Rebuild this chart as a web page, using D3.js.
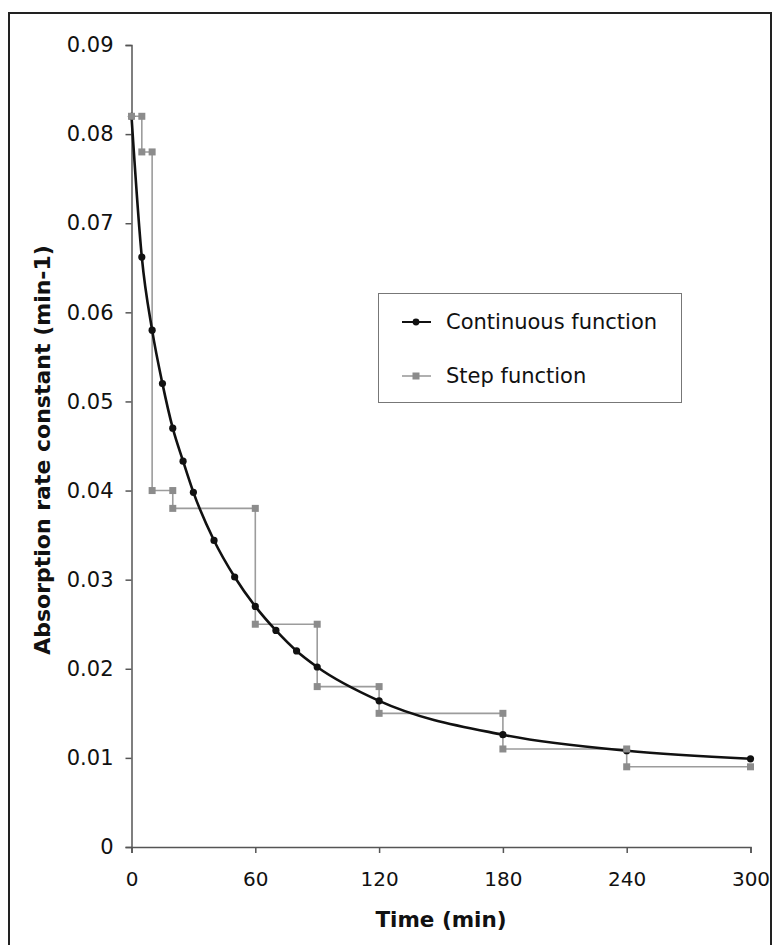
<html>
<head>
  <style>
    body {
      margin: 0;
      background: #ffffff;
      font-family: "DejaVu Sans", Verdana, sans-serif;
    }

    .axis text {
      font-family: "DejaVu Sans", Verdana, sans-serif;
      font-size: 20px;
      fill: #111;
    }

    .yaxis text {
      font-size: 21px;
    }

    .axis path,
    .axis line {
      stroke: #555;
      stroke-width: 1.5px;
    }
  </style>
</head>

<body>
  <div id="chart"></div>

  <script src="https://d3js.org/d3.v7.min.js"></script>
  <script>
    // continuous function
    var contTime = [0, 5, 10, 15, 20, 25, 30, 40, 50, 60, 70, 80, 90, 120, 180, 240, 300];
    var contRate = [0.082, 0.0662, 0.058, 0.052, 0.0470, 0.0433, 0.0398, 0.0344, 0.0303, 0.0270,
                    0.0243, 0.0220, 0.0202, 0.0164, 0.0126, 0.0108, 0.0099];

    // step function corners
    var stepTime = [0, 5, 5, 10, 10, 20, 20, 60, 60, 90, 90, 120, 120, 180, 180, 240, 240, 300];
    var stepRate = [0.082, 0.082, 0.078, 0.078, 0.040, 0.040, 0.038, 0.038, 0.025, 0.025,
                    0.018, 0.018, 0.015, 0.015, 0.011, 0.011, 0.009, 0.009];

    var xTicks = [0, 60, 120, 180, 240, 300];
    var yTicks = [0, 0.01, 0.02, 0.03, 0.04, 0.05, 0.06, 0.07, 0.08, 0.09];

    var seriesNames = ["Continuous function", "Step function"];

    var width = 773,
        height = 945;

    var svg = d3.select("#chart")
      .append("svg")
      .attr("width", width)
      .attr("height", height);

    // outer frame (bottom edge runs off the page)
    svg.append("rect")
      .attr("x", 9)
      .attr("y", 13)
      .attr("width", 762)
      .attr("height", 960)
      .attr("fill", "none")
      .attr("stroke", "#222")
      .attr("stroke-width", 2);

    var x = d3.scaleLinear().domain([0, 300]).range([131.5, 750.5]);
    var y = d3.scaleLinear().domain([0, 0.09]).range([847, 45]);

    var cont = contTime.map(function (t, i) { return { t: t, v: contRate[i] }; });
    var step = stepTime.map(function (t, i) { return { t: t, v: stepRate[i] }; });

    // axes
    svg.append("g")
      .attr("class", "axis yaxis")
      .attr("transform", "translate(" + x(0) + ",0)")
      .call(d3.axisLeft(y)
        .tickValues(yTicks)
        .tickSize(6)
        .tickPadding(12)
        .tickFormat(function (d) { return d === 0 ? "0" : d3.format(".2f")(d); }));

    svg.append("g")
      .attr("class", "axis")
      .attr("transform", "translate(0," + y(0) + ")")
      .call(d3.axisBottom(x)
        .tickValues(xTicks)
        .tickSize(6)
        .tickPadding(19));

    var line = d3.line()
      .x(function (d) { return x(d.t); })
      .y(function (d) { return y(d.v); });

    // step function line
    svg.append("path")
      .datum(step)
      .attr("d", line)
      .attr("fill", "none")
      .attr("stroke", "#9c9c9c")
      .attr("stroke-width", 1.6);

    // continuous function
    svg.append("path")
      .datum(cont)
      .attr("d", d3.line()
        .curve(d3.curveMonotoneX)
        .x(function (d) { return x(d.t); })
        .y(function (d) { return y(d.v); }))
      .attr("fill", "none")
      .attr("stroke", "#111")
      .attr("stroke-width", 2.6);

    svg.append("g")
      .selectAll("circle")
      .data(cont)
      .enter().append("circle")
      .attr("cx", function (d) { return x(d.t); })
      .attr("cy", function (d) { return y(d.v); })
      .attr("r", 3.6)
      .attr("fill", "#111");

    svg.append("g")
      .selectAll("rect")
      .data(step)
      .enter().append("rect")
      .attr("x", function (d) { return x(d.t) - 3.5; })
      .attr("y", function (d) { return y(d.v) - 3.5; })
      .attr("width", 7)
      .attr("height", 7)
      .attr("fill", "#8c8c8c");

    // legend
    var legend = svg.append("g");

    legend.append("rect")
      .attr("x", 378.5)
      .attr("y", 293.5)
      .attr("width", 303)
      .attr("height", 109)
      .attr("fill", "#fff")
      .attr("stroke", "#777")
      .attr("stroke-width", 1);

    var rows = [
      { name: seriesNames[0], y: 322, color: "#111", w: 2, shape: "circle" },
      { name: seriesNames[1], y: 376, color: "#9c9c9c", w: 1.6, shape: "square" }
    ];

    rows.forEach(function (r) {
      legend.append("line")
        .attr("x1", 402)
        .attr("x2", 431)
        .attr("y1", r.y)
        .attr("y2", r.y)
        .attr("stroke", r.color)
        .attr("stroke-width", r.w);
      if (r.shape === "circle") {
        legend.append("circle")
          .attr("cx", 416)
          .attr("cy", r.y)
          .attr("r", 3.4)
          .attr("fill", "#111");
      } else {
        legend.append("rect")
          .attr("x", 412.5)
          .attr("y", r.y - 3.5)
          .attr("width", 7)
          .attr("height", 7)
          .attr("fill", "#8c8c8c");
      }
      legend.append("text")
        .attr("x", 446)
        .attr("y", r.y + 7)
        .attr("font-size", 21)
        .attr("fill", "#111")
        .text(r.name);
    });

    // axis titles
    svg.append("text")
      .attr("x", 441)
      .attr("y", 927)
      .attr("text-anchor", "middle")
      .attr("font-size", 21.5)
      .attr("font-weight", "bold")
      .attr("fill", "#111")
      .text("Time (min)");

    svg.append("text")
      .attr("transform", "translate(50,450) rotate(-90)")
      .attr("text-anchor", "middle")
      .attr("font-size", 22)
      .attr("font-weight", "bold")
      .attr("fill", "#111")
      .text("Absorption rate constant (min-1)");
  </script>
</body>
</html>
